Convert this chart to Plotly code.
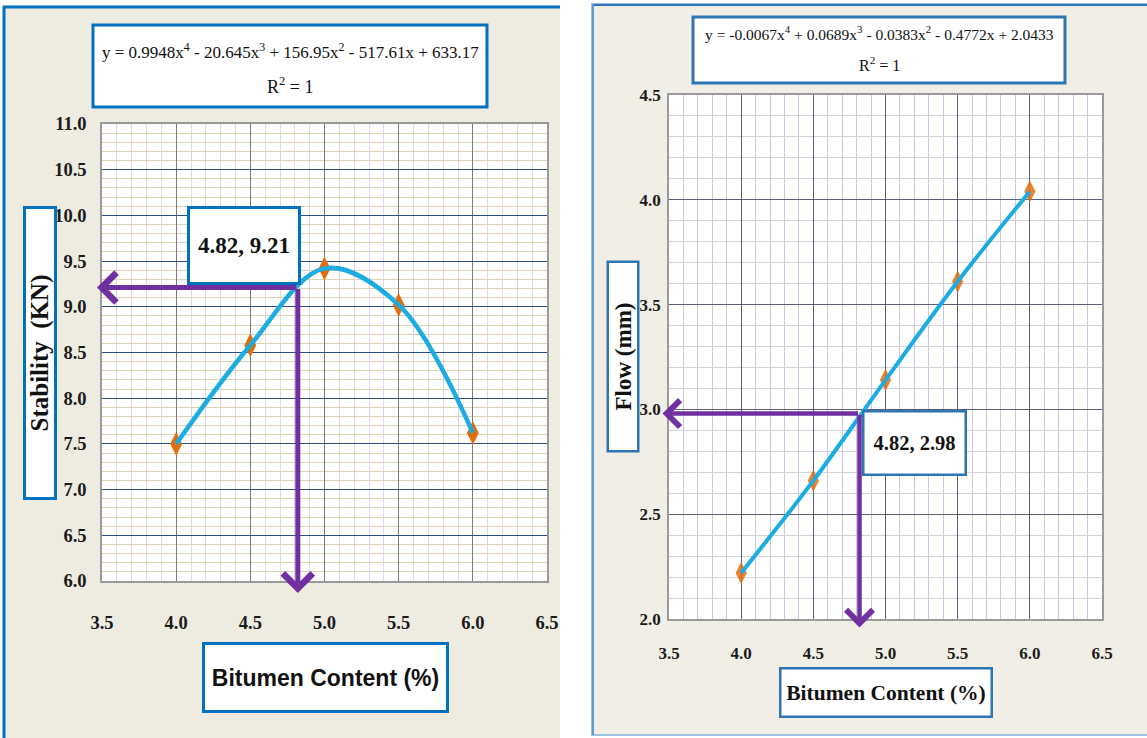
import plotly.graph_objects as go

# ---- data ----
bitumen = [4.0, 4.5, 5.0, 5.5, 6.0]
stability = [7.50, 8.58, 9.42, 9.02, 7.62]
flow = [2.22, 2.66, 3.14, 3.61, 4.04]

opt_stability = [4.82, 9.21]
opt_flow = [4.82, 2.98]

eq_stability = ["y = 0.9948x<sup>4</sup> - 20.645x<sup>3</sup> + 156.95x<sup>2</sup> - 517.61x + 633.17",
                "R<sup>2</sup> = 1"]
eq_flow = ["y = -0.0067x<sup>4</sup> + 0.0689x<sup>3</sup> - 0.0383x<sup>2</sup> - 0.4772x + 2.0433",
           "R<sup>2</sup> = 1"]

x_range = [3.5, 6.5]
stab_range = [6.0, 11.0]
flow_range = [2.0, 4.5]

W, H = 1147, 738
SERIF = "Liberation Serif, Times New Roman, serif"
SANS = "Liberation Sans, Arial, sans-serif"
ORANGE = "#E46C0A"
SKY = "#1AACE3"
PURPLE = "#7030A0"
BLUE = "#0070C0"
BLUE2 = "#2E75B6"


def px(x):
    return x / W


def py(y):
    return 1 - y / H


fig = go.Figure()

# markers first, fitted curve drawn over them
fig.add_trace(go.Scatter(x=bitumen, y=stability, mode="markers", xaxis="x", yaxis="y",
                         marker=dict(symbol="diamond-tall", size=17, color=ORANGE)))
fig.add_trace(go.Scatter(x=bitumen, y=stability, mode="lines", xaxis="x", yaxis="y",
                         line=dict(color=SKY, width=4.5, shape="spline", smoothing=1.0)))
fig.add_trace(go.Scatter(x=bitumen, y=flow, mode="markers", xaxis="x2", yaxis="y2",
                         marker=dict(symbol="diamond-tall", size=16, color=ORANGE, opacity=0.85)))
fig.add_trace(go.Scatter(x=bitumen, y=flow, mode="lines", xaxis="x2", yaxis="y2",
                         line=dict(color=SKY, width=4, shape="spline", smoothing=1.0)))


def xaxis(domain, anchor, major, minor, standoff, size):
    return dict(domain=domain, anchor=anchor, range=x_range, tick0=3.5, dtick=0.5,
                tickformat=".1f", showgrid=True, gridcolor=major, gridwidth=1.2,
                minor=dict(tick0=3.5, dtick=0.1, showgrid=True, gridcolor=minor, gridwidth=1),
                zeroline=False, showline=True, linecolor="#9A9A9A", linewidth=1.5, mirror=True,
                ticks="", ticklabelstandoff=standoff, automargin=False,
                tickfont=dict(family=SERIF, size=size, color="#1a1a1a", weight="bold"),
                fixedrange=True)


def yaxis(domain, anchor, rng, major, minor, standoff, size):
    return dict(domain=domain, anchor=anchor, range=rng, tick0=rng[0], dtick=0.5,
                tickformat=".1f", showgrid=True, gridcolor=major, gridwidth=1.2,
                minor=dict(tick0=rng[0], dtick=0.1, showgrid=True, gridcolor=minor, gridwidth=1),
                zeroline=False, showline=True, linecolor="#9A9A9A", linewidth=1.5, mirror=True,
                ticks="", ticklabelstandoff=standoff, automargin=False,
                tickfont=dict(family=SERIF, size=size, color="#1a1a1a", weight="bold"),
                fixedrange=True)


fig.update_layout(
    width=W, height=H, margin=dict(l=0, r=0, t=0, b=0, pad=0), autosize=False,
    paper_bgcolor="white", plot_bgcolor="rgba(0,0,0,0)",
    showlegend=False, hovermode=False,
    xaxis=xaxis([px(102), px(547)], "y", "#7A7A7A", "#DCD5F0", 24, 18.5),
    yaxis=yaxis([py(581), py(124)], "x", stab_range, "#2F4F8C", "#DDD2B2", 10, 18.5),
    xaxis2=xaxis([px(669), px(1102)], "y2", "#5C5E7E", "#CBC8DD", 18, 17),
    yaxis2=yaxis([py(619), py(95)], "x2", flow_range, "#5C5E7E", "#D3D0DE", 3, 17),
)

shapes = [
    # panel backgrounds
    dict(type="rect", xref="paper", yref="paper", x0=px(3), x1=px(560), y0=py(745), y1=py(6),
         fillcolor="#EEECE1", line=dict(width=0), layer="below"),
    dict(type="line", xref="paper", yref="paper", x0=px(3), x1=px(560), y0=py(7), y1=py(7),
         line=dict(color=BLUE, width=3), layer="below"),
    dict(type="line", xref="paper", yref="paper", x0=px(4), x1=px(4), y0=py(745), y1=py(6),
         line=dict(color=BLUE, width=3), layer="below"),
    dict(type="rect", xref="paper", yref="paper", x0=px(592), x1=px(1150), y0=py(735), y1=py(4),
         fillcolor="#F0EEE5", line=dict(color="#9CC3E6", width=2), layer="below"),
    dict(type="line", xref="paper", yref="paper", x0=px(592), x1=px(1150), y0=py(5), y1=py(5),
         line=dict(color=BLUE2, width=2), layer="below"),
    dict(type="line", xref="paper", yref="paper", x0=px(593), x1=px(593), y0=py(735), y1=py(4),
         line=dict(color="#5B9BD5", width=2), layer="below"),
    # white plotting areas
    dict(type="rect", xref="x domain", yref="y domain", x0=0, x1=1, y0=0, y1=1,
         fillcolor="white", line=dict(width=0), layer="below"),
    dict(type="rect", xref="x2 domain", yref="y2 domain", x0=0, x1=1, y0=0, y1=1,
         fillcolor="white", line=dict(width=0), layer="below"),
    # equation frames
    dict(type="rect", xref="paper", yref="paper", x0=px(93), x1=px(487), y0=py(107), y1=py(25),
         fillcolor="white", line=dict(color=BLUE, width=3), layer="above"),
    dict(type="rect", xref="paper", yref="paper", x0=px(693), x1=px(1065), y0=py(83), y1=py(17),
         fillcolor="white", line=dict(color=BLUE2, width=3), layer="above"),
]
fig.update_layout(shapes=shapes)

annotations = []


def text(t, x, y, size, family=SERIF, bold=False):
    annotations.append(dict(
        text=t, x=x, y=y, xref="paper", yref="paper", xanchor="center", yanchor="middle",
        showarrow=False,
        font=dict(family=family, size=size, color="#111111", weight="bold" if bold else "normal")))


def box(t, x, y, w, h, size, border, bw, family=SERIF, bold=False, angle=0,
        xanchor="center", yanchor="middle", xref="paper", yref="paper", xshift=0, yshift=0):
    annotations.append(dict(
        text=t, x=x, y=y, xref=xref, yref=yref, xanchor=xanchor, yanchor=yanchor,
        showarrow=False, width=w, height=h, align="center", valign="middle",
        bgcolor="white", bordercolor=border, borderwidth=bw, borderpad=0,
        textangle=angle, xshift=xshift, yshift=yshift,
        font=dict(family=family, size=size, color="#111111", weight="bold" if bold else "normal")))


def arrow(xref, yref, tail, tip, width):
    annotations.append(dict(
        text="", x=tip[0], y=tip[1], ax=tail[0], ay=tail[1], xref=xref, yref=yref,
        axref=xref, ayref=yref, showarrow=True, arrowhead=4, arrowsize=1.15,
        arrowwidth=width, arrowcolor=PURPLE, standoff=0, startstandoff=0))


# trendline equations
text(eq_stability[0], px(290), py(51), 17)
text(eq_stability[1], px(290), py(86), 18)
text(eq_flow[0], px(879), py(33), 15.5)
text(eq_flow[1], px(879), py(64), 16)

# optimum read-off arrows
ox, oy = opt_stability
arrow("x", "y", (ox, oy), (x_range[0] - 0.034, oy), 5)
arrow("x", "y", (ox, oy), (ox, stab_range[0] - 0.13), 5)
fx, fy = opt_flow
arrow("x2", "y2", (fx, fy), (x_range[0] - 0.045, fy), 4.5)
arrow("x2", "y2", (fx, fy), (fx, flow_range[0] - 0.04), 4.5)

# optimum value labels
box(f"{ox:.2f}, {oy:.2f}", ox, oy, 108, 73, 23, BLUE, 3, bold=True,
    xanchor="right", yanchor="bottom", xref="x", yref="y", xshift=3, yshift=3)
box(f"{fx:.2f}, {fy:.2f}", fx, fy, 100, 61, 20.5, BLUE2, 2.5, bold=True,
    xanchor="left", yanchor="top", xref="x2", yref="y2", xshift=2, yshift=4)

# axis titles
box("Stability  (KN)", px(39.5), py(353.5), 288, 28, 25, BLUE, 3, bold=True, angle=-90)
box("Bitumen Content (%)", px(325), py(677), 241, 65, 23, BLUE, 3, family=SANS, bold=True)
box("Flow (mm)", px(622.5), py(357), 187, 28, 23, BLUE2, 2.5, bold=True, angle=-90)
box("Bitumen Content (%)", px(886), py(692.5), 209, 46, 21.5, BLUE2, 2.5, bold=True)

fig.update_layout(annotations=annotations)

fig.write_html("out.html", post_script="document.body.style.margin='0px';")
